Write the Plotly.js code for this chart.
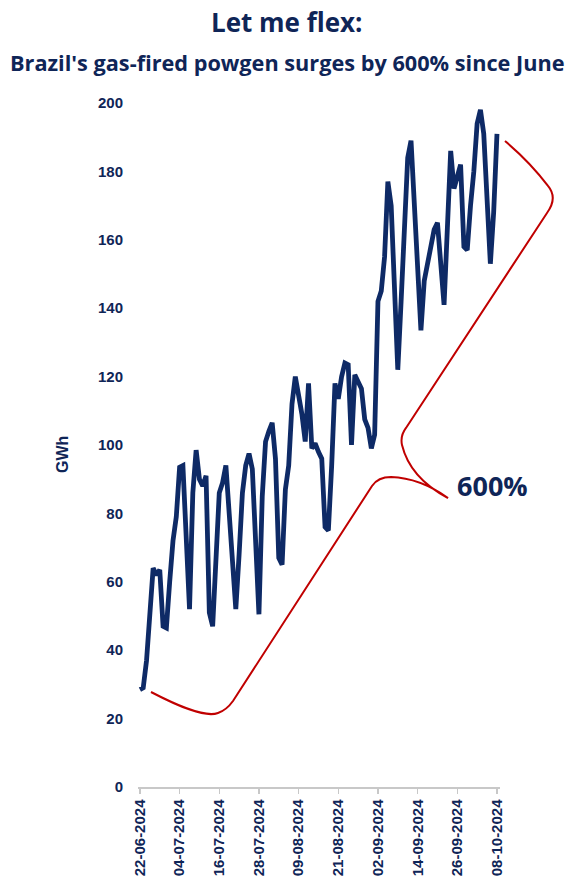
<!DOCTYPE html>
<html>
<head>
<meta charset="utf-8">
<script src="https://cdn.plot.ly/plotly-3.0.1.min.js"></script>
<style>html,body{margin:0;padding:0;background:#fff;}#chart{width:573px;height:895px;}</style>
</head>
<body>
<div id="chart"></div>
<script>
// ---- data ----
const startDate = '2024-06-22';
const gwh = [
  28.5, 29, 37, 53, 64, 62, 63.5, 47, 46.5, 60,
  72, 79, 93.5, 94, 70, 52, 86, 98.5, 90, 88,
  91, 51, 47, 66, 86, 89, 94, 80, 66, 52,
  68, 86, 94, 97.5, 93, 72, 50.5, 85, 101, 104,
  106.5, 96, 67, 65, 87, 94, 112, 120, 115, 109,
  101, 118, 99, 100.5, 98, 96, 76, 75, 94, 118,
  113.5, 120, 124, 123.5, 100, 120.5, 118.5, 116.5, 107.5, 105,
  99, 103, 142, 145, 155, 177, 170, 148, 122, 142,
  163, 184, 189, 170, 152, 133.5, 148, 153, 157, 163,
  165, 153, 141, 163.5, 186, 175, 178, 182, 158, 157,
  170, 180, 194, 198, 191, 172, 153, 168, 191
];
const tickDates = ['2024-06-22','2024-07-04','2024-07-16','2024-07-28','2024-08-09',
                   '2024-08-21','2024-09-02','2024-09-14','2024-09-26','2024-10-08'];
const tickLabels = ['22-06-2024','04-07-2024','16-07-2024','28-07-2024','09-08-2024',
                    '21-08-2024','02-09-2024','14-09-2024','26-09-2024','08-10-2024'];
const titleText = 'Let me flex:';
const subtitleText = "Brazil's gas-fired powgen surges by 600% since June";
const yTitle = 'GWh';
const growthLabel = '600%';

// daily date categories
const dates = [];
{
  const d0 = new Date(startDate + 'T00:00:00Z');
  for (let i = 0; i < gwh.length; i++) {
    const d = new Date(d0.getTime() + i * 86400000);
    dates.push(d.toISOString().slice(0, 10));
  }
}

// ---- layout geometry ----
const W = 573, H = 895;
const M = {l: 138, r: 73, t: 103, b: 108};
const pw = W - M.l - M.r, ph = H - M.t - M.b;
function P(x, y) { // pixel -> paper
  return ((x - M.l) / pw).toFixed(4) + ',' + ((H - M.b - y) / ph).toFixed(4);
}
const navy = '#0f2557';
const red = '#c00000';

const bracePath =
  'M' + P(151, 692) +
  ' C' + P(178, 706) + ' ' + P(205, 718) + ' ' + P(218, 713) +
  ' C' + P(224, 711) + ' ' + P(228, 708) + ' ' + P(233, 701) +
  ' L' + P(372, 486) +
  ' Q' + P(378, 477) + ' ' + P(391, 477) +
  ' Q' + P(420, 478) + ' ' + P(448, 498) +
  ' Q' + P(410, 478) + ' ' + P(402, 445) +
  ' Q' + P(400, 436) + ' ' + P(406, 428) +
  ' L' + P(547, 213) +
  ' Q' + P(558, 198) + ' ' + P(548, 186) +
  ' Q' + P(530, 162) + ' ' + P(505, 141);

const trace = {
  x: dates, y: gwh, type: 'scatter', mode: 'lines',
  line: {color: '#0e2a66', width: 4.8, shape: 'linear'},
  hoverinfo: 'skip'
};

const tickFont = {family: 'Liberation Sans, Arial, sans-serif', size: 15, color: navy, weight: 700};

const layout = {
  width: W, height: H,
  margin: M,
  paper_bgcolor: '#ffffff', plot_bgcolor: '#ffffff',
  showlegend: false,
  xaxis: {
    type: 'date',
    range: ['2024-06-21 10:00', '2024-10-08 22:00'],
    tickvals: tickDates, ticktext: tickLabels,
    tickangle: -90,
    showgrid: false, zeroline: false,
    showline: true, linecolor: '#c8c8c8', linewidth: 1.5,
    ticks: 'outside', ticklen: 5, tickcolor: '#c8c8c8', tickwidth: 1.5,
    tickfont: tickFont,
    fixedrange: true
  },
  yaxis: {
    range: [0, 200], dtick: 20, tick0: 0,
    showgrid: false, zeroline: false, showline: false,
    ticks: '', ticklabelstandoff: 14,
    tickfont: tickFont,
    fixedrange: true
  },
  shapes: [{
    type: 'path', xref: 'paper', yref: 'paper', path: bracePath,
    line: {color: red, width: 2}, fillcolor: 'rgba(0,0,0,0)', layer: 'above'
  }],
  annotations: [
    {text: titleText, xref: 'paper', yref: 'paper', x: (287 - M.l) / pw, y: (H - M.b - 22) / ph,
     xanchor: 'center', yanchor: 'middle', showarrow: false,
     font: {family: 'Open Sans, sans-serif', size: 26, color: navy, weight: 700}},
    {text: subtitleText, xref: 'paper', yref: 'paper', x: (287.5 - M.l) / pw, y: (H - M.b - 62) / ph,
     xanchor: 'center', yanchor: 'middle', showarrow: false,
     font: {family: 'Open Sans, sans-serif', size: 21.7, color: navy, weight: 700}},
    {text: yTitle, xref: 'paper', yref: 'paper', x: (62 - M.l) / pw, y: (H - M.b - 455) / ph,
     xanchor: 'center', yanchor: 'middle', showarrow: false, textangle: -90,
     font: {family: 'Liberation Sans, Arial, sans-serif', size: 16, color: navy, weight: 700}},
    {text: growthLabel, xref: 'paper', yref: 'paper', x: (455 - M.l) / pw, y: (H - M.b - 485) / ph,
     xanchor: 'left', yanchor: 'middle', showarrow: false,
     font: {family: 'Open Sans, sans-serif', size: 27, color: navy, weight: 700}}
  ]
};

Plotly.newPlot('chart', [trace], layout, {staticPlot: true, displayModeBar: false});
</script>
</body>
</html>
